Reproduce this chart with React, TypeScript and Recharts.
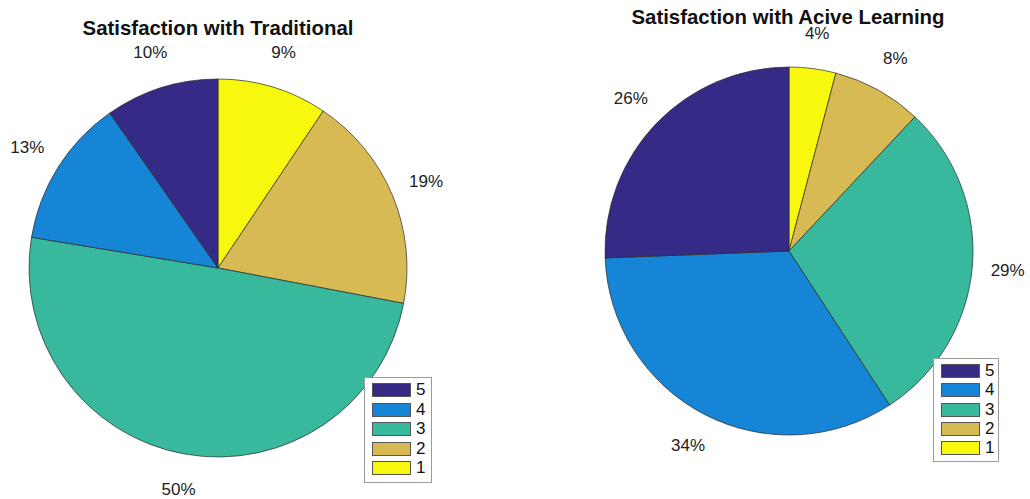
import React from "react";
import { PieChart, Pie, Cell } from "recharts";

const categories = ["1", "2", "3", "4", "5"];
const traditionalValues = [9.4, 18.6, 49.6, 12.7, 9.7];
const activeValues = [4.1, 7.9, 28.8, 33.6, 25.6];
const colors = ["#F8F80F", "#D8BA55", "#38B89C", "#1685D6", "#352A86"];
const legendOrder = ["5", "4", "3", "2", "1"];
const titleLeft = "Satisfaction with Traditional";
const titleRight = "Satisfaction with Acive Learning";

const FONT = "'Liberation Sans', Arial, Helvetica, sans-serif";

const makeData = (vals: number[]) => categories.map((c, i) => ({ name: c, value: vals[i] }));

const RAD = Math.PI / 180;
const renderLabel = (props: any) => {
  const { cx, cy, midAngle, outerRadius, percent } = props;
  const r = outerRadius * 1.193;
  const x = cx + r * Math.cos(-midAngle * RAD);
  const y = cy + r * Math.sin(-midAngle * RAD);
  return (
    <text x={x} y={y} textAnchor="middle" dominantBaseline="central" fill="#222" fontSize={17} fontFamily={FONT}>
      {Math.round(percent * 100)}%
    </text>
  );
};

function LegendBox({ left, top, width, height, spacing }: any) {
  return (
    <div
      style={{
        position: "absolute",
        left,
        top,
        width,
        height,
        background: "#fff",
        border: "1px solid #9a9a9a",
        boxSizing: "border-box",
        fontFamily: FONT,
      }}
    >
      {legendOrder.map((c, i) => {
        const idx = categories.indexOf(c);
        return (
          <div key={c} style={{ position: "absolute", left: 7, top: 5 + i * spacing, height: 14, display: "flex", alignItems: "center" }}>
            <div style={{ width: 39, height: 14, background: colors[idx], border: "1px solid #555", boxSizing: "border-box" }} />
            <span style={{ marginLeft: 5, fontSize: 17, color: "#111", lineHeight: "14px" }}>{c}</span>
          </div>
        );
      })}
    </div>
  );
}

const M = { top: 0, right: 0, bottom: 0, left: 0 };

export default function App() {
  const left = makeData(traditionalValues);
  const right = makeData(activeValues);
  return (
    <div style={{ position: "absolute", left: 0, top: 0, width: 1030, height: 499, background: "#fff", overflow: "hidden" }}>
      <div style={{ position: "absolute", left: 0, top: 0 }}>
        <PieChart width={515} height={499} margin={M}>
          <Pie
            data={left}
            dataKey="value"
            nameKey="name"
            cx={218}
            cy={268}
            outerRadius={189}
            startAngle={90}
            endAngle={-270}
            stroke="#2a2a2a"
            strokeWidth={0.7}
            label={renderLabel}
            labelLine={false}
            isAnimationActive={false}
          >
            {left.map((d, i) => (
              <Cell key={d.name} fill={colors[i]} />
            ))}
          </Pie>
        </PieChart>
      </div>
      <div style={{ position: "absolute", left: 515, top: 0 }}>
        <PieChart width={515} height={499} margin={M}>
          <Pie
            data={right}
            dataKey="value"
            nameKey="name"
            cx={274}
            cy={251}
            outerRadius={184}
            startAngle={90}
            endAngle={-270}
            stroke="#2a2a2a"
            strokeWidth={0.7}
            label={renderLabel}
            labelLine={false}
            isAnimationActive={false}
          >
            {right.map((d, i) => (
              <Cell key={d.name} fill={colors[i]} />
            ))}
          </Pie>
        </PieChart>
      </div>
      <div style={{ position: "absolute", left: 0, width: 436, top: 22, textAlign: "center", fontFamily: FONT, fontWeight: "bold", fontSize: 20.4, color: "#111", lineHeight: "12px" }}>
        {titleLeft}
      </div>
      <div style={{ position: "absolute", left: 578, width: 420, top: 11, textAlign: "center", fontFamily: FONT, fontWeight: "bold", fontSize: 20.4, color: "#111", lineHeight: "12px" }}>
        {titleRight}
      </div>
      <LegendBox left={364} top={377} width={68} height={106} spacing={19.5} />
      <LegendBox left={933} top={358} width={66} height={104} spacing={19.3} />
    </div>
  );
}
